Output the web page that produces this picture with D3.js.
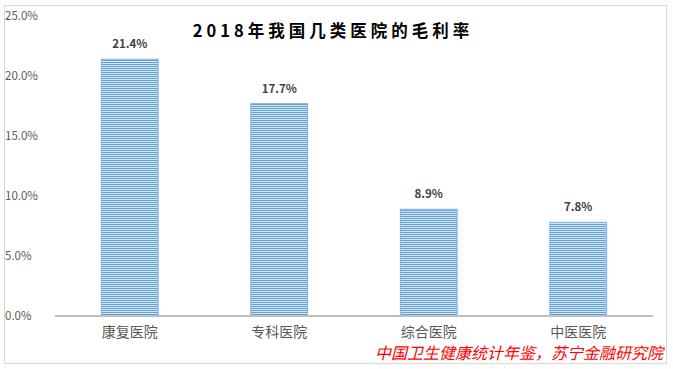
<!DOCTYPE html>
<html>
<head>
<meta charset="utf-8">
<script src="https://cdn.jsdelivr.net/npm/d3@7"></script>
<style>
  body { margin: 0; background: #fff; }
  svg { display: block; font-family: "Noto Sans CJK SC", "Noto Sans", sans-serif; }
</style>
</head>
<body>
<svg id="chart" width="673" height="369"></svg>
<script>
var categories = ["康复医院", "专科医院", "综合医院", "中医医院"];
var margins = [21.4, 17.7, 8.9, 7.8];
var yTicks = [0, 5, 10, 15, 20, 25];
var title = "2018年我国几类医院的毛利率";
var source = "中国卫生健康统计年鉴，苏宁金融研究院";

var svg = d3.select("#chart");

// outer frame
svg.append("rect")
    .attr("x", 4.5).attr("y", 5.5)
    .attr("width", 662).attr("height", 358)
    .attr("fill", "none")
    .attr("stroke", "#d9d9d9");

// striped fill like the excel pattern
var defs = svg.append("defs");
var pat = defs.append("pattern")
    .attr("id", "stripes")
    .attr("patternUnits", "userSpaceOnUse")
    .attr("width", 4).attr("height", 2);
pat.append("rect").attr("width", 4).attr("height", 2).attr("fill", "#d6e6f6");
pat.append("rect").attr("width", 4).attr("height", 1).attr("fill", "#62a0dc");

var x = d3.scaleBand()
    .domain(categories)
    .range([55, 653])
    .paddingInner(0.62)
    .paddingOuter(0.31);

var y = d3.scaleLinear()
    .domain([0, 25])
    .range([316, 16]);

// y labels (no axis line, no gridlines)
svg.append("g")
    .selectAll("text")
    .data(yTicks)
    .enter()
    .append("text")
    .attr("x", 5)
    .attr("y", function (d) { return y(d); })
    .attr("dy", "0.35em")
    .attr("font-size", 11.5)
    .attr("fill", "#595959")
    .text(function (d) { return d.toFixed(1) + "%"; });

svg.selectAll(".bar")
    .data(margins)
    .enter()
    .append("rect")
    .attr("class", "bar")
    .attr("x", function (d, i) { return x(categories[i]); })
    .attr("y", function (d) { return y(d); })
    .attr("width", x.bandwidth())
    .attr("height", function (d) { return y(0) - y(d); })
    .attr("fill", "url(#stripes)")
    .attr("stroke", "#7fb2e3")
    .attr("stroke-width", 1);

svg.selectAll(".val")
    .data(margins)
    .enter()
    .append("text")
    .attr("class", "val")
    .attr("x", function (d, i) { return x(categories[i]) + x.bandwidth() / 2; })
    .attr("y", function (d) { return y(d) - 15; })
    .attr("dy", "0.35em")
    .attr("text-anchor", "middle")
    .attr("font-size", 11.5)
    .attr("font-weight", "bold")
    .attr("fill", "#404040")
    .text(function (d) { return d.toFixed(1) + "%"; });

// x axis
var xAxis = svg.append("g")
    .attr("transform", "translate(0," + y(0) + ")")
    .call(d3.axisBottom(x).tickSize(0).tickPadding(11));
xAxis.select(".domain")
    .attr("stroke", "#bfbfbf")
    .attr("stroke-width", 2)
    .attr("d", "M55,0H653");
xAxis.selectAll("text")
    .attr("font-size", 14)
    .attr("fill", "#595959")
    .attr("font-family", "Noto Sans CJK SC");

svg.append("text")
    .attr("x", 333)
    .attr("y", 31)
    .attr("dy", "0.35em")
    .attr("text-anchor", "middle")
    .attr("font-size", 16.5)
    .attr("font-weight", "bold")
    .attr("letter-spacing", 4)
    .attr("fill", "#000")
    .text(title);

svg.append("text")
    .attr("x", 663)
    .attr("y", 353)
    .attr("dy", "0.35em")
    .attr("text-anchor", "end")
    .attr("font-size", 16)
    .attr("font-style", "italic")
    .attr("fill", "#ff0000")
    .text(source);
</script>
</body>
</html>
